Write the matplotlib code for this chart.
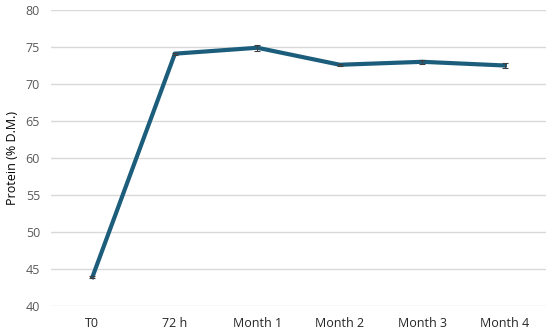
import matplotlib
matplotlib.use("Agg")
import matplotlib.pyplot as plt

# Protein content over time
categories = ["T0", "72 h", "Month 1", "Month 2", "Month 3", "Month 4"]
protein = [43.9, 74.1, 74.9, 72.6, 73.0, 72.5]
protein_err = [0.15, 0.15, 0.4, 0.1, 0.3, 0.3]
y_ticks = [40, 45, 50, 55, 60, 65, 70, 75, 80]

plt.rcParams['font.family'] = ['Open Sans', 'DejaVu Sans']

fig = plt.figure(figsize=(5.5, 3.34), dpi=100)
ax = fig.add_axes([0.093, 0.084, 0.9, 0.886])

x = range(len(categories))
ax.plot(x, protein, color='#1c5d7c', linewidth=3, solid_joinstyle='miter', zorder=3)
ax.errorbar(x, protein, yerr=protein_err, fmt='none', ecolor='#404040',
            elinewidth=0.8, capsize=2.5, capthick=0.8, zorder=4)

ax.set_xlim(-0.5, len(categories) - 0.5)
ax.set_ylim(40, 80)
ax.set_yticks(y_ticks)
ax.set_xticks(list(x))
ax.set_xticklabels(categories)
ax.grid(axis='y', color='#d9d9d9', linewidth=1)
ax.set_axisbelow(True)
for s in ax.spines.values():
    s.set_visible(False)
ax.tick_params(axis='both', length=0, labelsize=9, colors='#595959', pad=8)
ax.tick_params(axis='x', colors='#262626', pad=8)
ax.set_ylabel("Protein (% D.M.)", fontsize=9, color='#000000', labelpad=5)

fig.savefig("out.png", dpi=100)
